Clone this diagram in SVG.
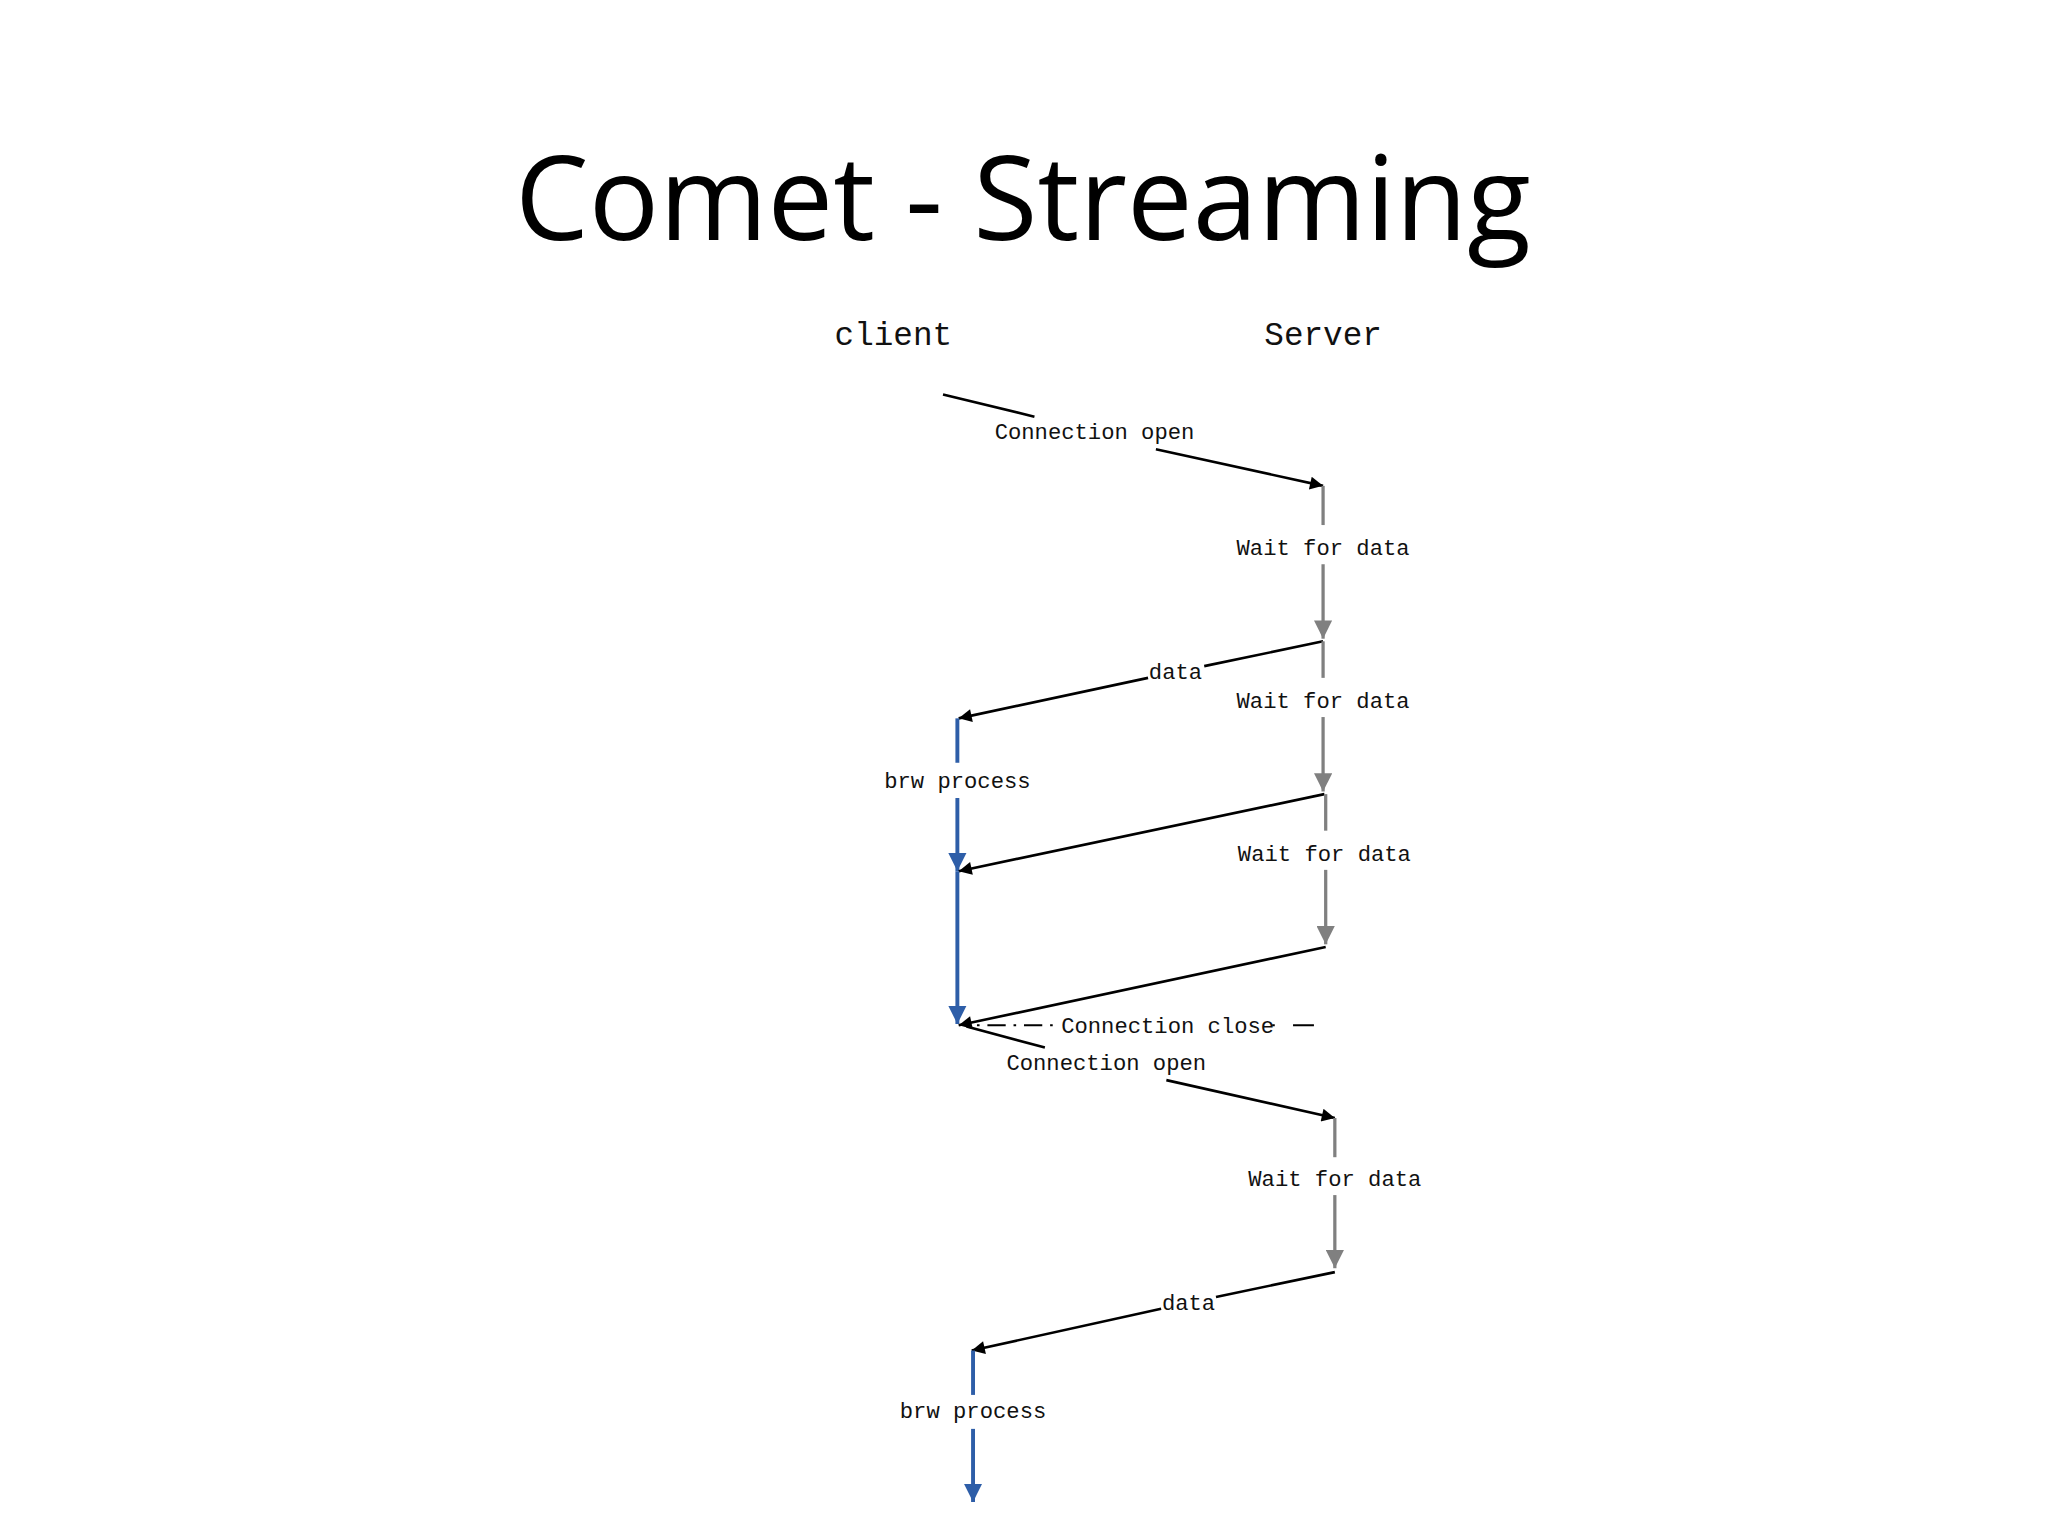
<svg xmlns="http://www.w3.org/2000/svg" width="2048" height="1536" viewBox="0 0 2048 1536">
<style>
.lbl{font-family:"Liberation Mono","DejaVu Sans Mono",monospace;font-size:17px;fill:#111;text-anchor:middle}
.hd{font-family:"Liberation Mono","DejaVu Sans Mono",monospace;font-size:25px;fill:#111;text-anchor:middle}
.blk{stroke:#000;stroke-width:2;fill:none}
.gry{stroke:#808080;stroke-width:2.5;fill:none}
.blu{stroke:#2e5ea8;stroke-width:3;fill:none}
</style>
<defs>
<marker id="ab" viewBox="0 0 10 10" refX="10" refY="5" markerWidth="12" markerHeight="10" markerUnits="userSpaceOnUse" orient="auto"><path d="M0,0L10,5L0,10z" fill="#000"/></marker>
<marker id="ag" viewBox="0 0 10 10" refX="10" refY="5" markerWidth="14" markerHeight="14" markerUnits="userSpaceOnUse" orient="auto"><path d="M0,0L10,5L0,10z" fill="#808080"/></marker>
<marker id="au" viewBox="0 0 10 10" refX="10" refY="5" markerWidth="14" markerHeight="14" markerUnits="userSpaceOnUse" orient="auto"><path d="M0,0L10,5L0,10z" fill="#2e5ea8"/></marker>
</defs>
<rect width="2048" height="1536" fill="#fff"/>
<text x="1023" y="240" font-family="Open Sans, Liberation Sans, sans-serif" font-size="117" text-anchor="middle" fill="#000">Comet - Streaming</text>
<g transform="scale(1.3061)">
<g id="client"><text class="hd" x="684" y="264">client</text></g>
<g id="server"><text class="hd" x="1013" y="264">Server</text></g>
<g id="connectors">
<line class="blk" x1="722" y1="302" x2="792" y2="319"/>
<line class="blk" x1="885" y1="344" x2="1013" y2="372" marker-end="url(#ab)"/>
<line class="gry" x1="1013" y1="372" x2="1013" y2="402"/>
<line class="gry" x1="1013" y1="432" x2="1013" y2="489" marker-end="url(#ag)"/>
<polyline class="blk" points="1013,491 922,510"/>
<line class="blk" x1="879" y1="519" x2="734" y2="550" marker-end="url(#ab)"/>
<line class="gry" x1="1013" y1="491" x2="1013" y2="519"/>
<line class="gry" x1="1013" y1="549" x2="1013" y2="606" marker-end="url(#ag)"/>
<line class="blu" x1="733" y1="550" x2="733" y2="584"/>
<line class="blu" x1="733" y1="611" x2="733" y2="667" marker-end="url(#au)"/>
<line class="blk" x1="1014" y1="608" x2="734" y2="667" marker-end="url(#ab)"/>
<line class="gry" x1="1015" y1="608" x2="1015" y2="636"/>
<line class="gry" x1="1015" y1="666" x2="1015" y2="723" marker-end="url(#ag)"/>
<line class="blu" x1="733" y1="667" x2="733" y2="784" marker-end="url(#au)"/>
<line class="blk" x1="1015" y1="725" x2="734" y2="785" marker-end="url(#ab)"/>
<line stroke="#000" stroke-width="1.6" x1="748" y1="785" x2="812" y2="785" stroke-dasharray="2,6,14,6"/>
<line stroke="#000" stroke-width="1.6" x1="974" y1="785" x2="1006" y2="785" stroke-dasharray="2,14,16,0"/>
<line class="blk" x1="740" y1="786" x2="800" y2="802"/>
<line class="blk" x1="893" y1="827" x2="1022" y2="856" marker-end="url(#ab)"/>
<line class="gry" x1="1022" y1="856" x2="1022" y2="886"/>
<line class="gry" x1="1022" y1="915" x2="1022" y2="971" marker-end="url(#ag)"/>
<line class="blk" x1="1022" y1="974" x2="931" y2="993"/>
<line class="blk" x1="889" y1="1002" x2="744" y2="1034" marker-end="url(#ab)"/>
<line class="blu" x1="745" y1="1034" x2="745" y2="1068"/>
<line class="blu" x1="745" y1="1094" x2="745" y2="1150" marker-end="url(#au)"/>
</g>
<g id="labels">
<text class="lbl" x="838" y="336">Connection open</text>
<text class="lbl" x="1013" y="425">Wait for data</text>
<text class="lbl" x="900" y="520">data</text>
<text class="lbl" x="1013" y="542">Wait for data</text>
<text class="lbl" x="733" y="603">brw process</text>
<text class="lbl" x="1014" y="659">Wait for data</text>
<text class="lbl" x="894" y="791">Connection close</text>
<text class="lbl" x="847" y="819">Connection open</text>
<text class="lbl" x="1022" y="908">Wait for data</text>
<text class="lbl" x="910" y="1003">data</text>
<text class="lbl" x="745" y="1086">brw process</text>
</g>
</g>
</svg>
